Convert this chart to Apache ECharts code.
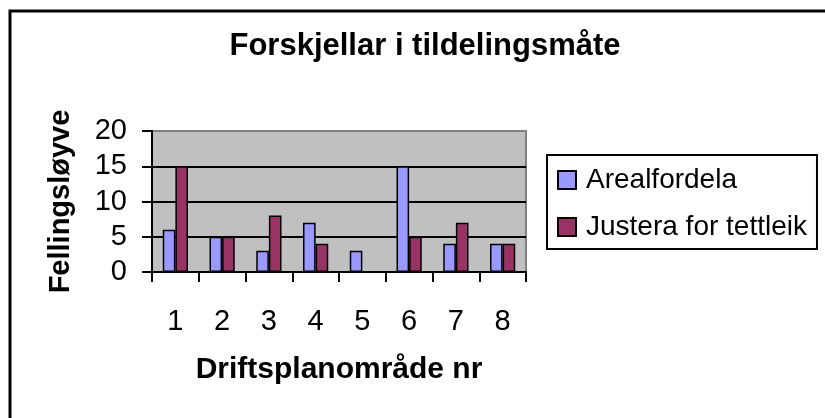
<!DOCTYPE html>
<html>
<head>
<meta charset="utf-8">
<script src="https://cdn.jsdelivr.net/npm/echarts@6/dist/echarts.min.js"></script>
<style>
  html, body { margin: 0; padding: 0; background: #fff; }
  #chart { width: 825px; height: 418px; }
</style>
</head>
<body>
<div id="chart"></div>
<script>
// Forskjellar i tildelingsmåte
const categories = ['1', '2', '3', '4', '5', '6', '7', '8'];
const arealfordela = [6, 5, 3, 7, 3, 15, 4, 4];
const justera = [15, 5, 8, 4, 0, 5, 7, 4];
const yTicks = { min: 0, max: 20, interval: 5 };

const font = '"Liberation Sans", Arial, sans-serif';

const chart = echarts.init(document.getElementById('chart'));

const option = {
    backgroundColor: '#fff',
    animation: false,
    title: {
        text: 'Forskjellar i tildelingsmåte',
        left: 420,
        top: 26,
        textAlign: 'center',
        textStyle: { fontFamily: font, fontSize: 31, fontWeight: 'bold', color: '#000' }
    },
    legend: {
        orient: 'vertical',
        left: 547,
        top: 155,
        padding: [11, 10, 8, 10],
        itemGap: 19,
        itemWidth: 18,
        itemHeight: 18,
        icon: 'rect',
        borderColor: '#000',
        borderWidth: 2,
        textStyle: { fontFamily: font, fontSize: 28, color: '#000', padding: [0, 0, 0, 5] },
        data: ['Arealfordela', 'Justera for tettleik']
    },
    grid: {
        left: 152,
        right: 299,
        top: 131,
        bottom: 146,
        show: true,
        backgroundColor: '#C0C0C0',
        borderColor: '#808080',
        borderWidth: 2
    },
    xAxis: {
        type: 'category',
        data: categories,
        name: 'Driftsplanområde nr',
        nameLocation: 'middle',
        nameGap: 83,
        nameTextStyle: { fontFamily: font, fontSize: 30, fontWeight: 'bold', color: '#000' },
        axisLine: { lineStyle: { color: '#000', width: 2 } },
        axisTick: { show: true, length: 10, lineStyle: { color: '#000', width: 2 } },
        axisLabel: { margin: 35, fontFamily: font, fontSize: 29, color: '#000' }
    },
    yAxis: {
        type: 'value',
        min: yTicks.min,
        max: yTicks.max,
        interval: yTicks.interval,
        name: 'Fellingsløyve',
        nameLocation: 'middle',
        nameGap: 77,
        nameTextStyle: { fontFamily: font, fontSize: 29, fontWeight: 'bold', color: '#000' },
        axisLine: { show: true, lineStyle: { color: '#000', width: 2 } },
        axisTick: { show: true, length: 10, lineStyle: { color: '#000', width: 2 } },
        axisLabel: { margin: 25, fontFamily: font, fontSize: 29, color: '#000' },
        splitLine: {
            show: true,
            showMinLine: false,
            showMaxLine: false,
            lineStyle: { color: '#000', width: 2 }
        }
    },
    series: [
        {
            name: 'Arealfordela',
            type: 'bar',
            data: arealfordela,
            barGap: '0%',
            barCategoryGap: '46%',
            itemStyle: { color: '#9999FF', borderColor: '#000', borderWidth: 1.5 }
        },
        {
            name: 'Justera for tettleik',
            type: 'bar',
            data: justera,
            barGap: '0%',
            barCategoryGap: '46%',
            itemStyle: { color: '#993366', borderColor: '#000', borderWidth: 1.5 }
        }
    ],
    graphic: [
        {
            type: 'rect',
            silent: true,
            shape: { x: 10, y: 11, width: 830, height: 420 },
            style: { fill: null, stroke: '#000', lineWidth: 3 }
        }
    ]
};

chart.setOption(option);
</script>
</body>
</html>
